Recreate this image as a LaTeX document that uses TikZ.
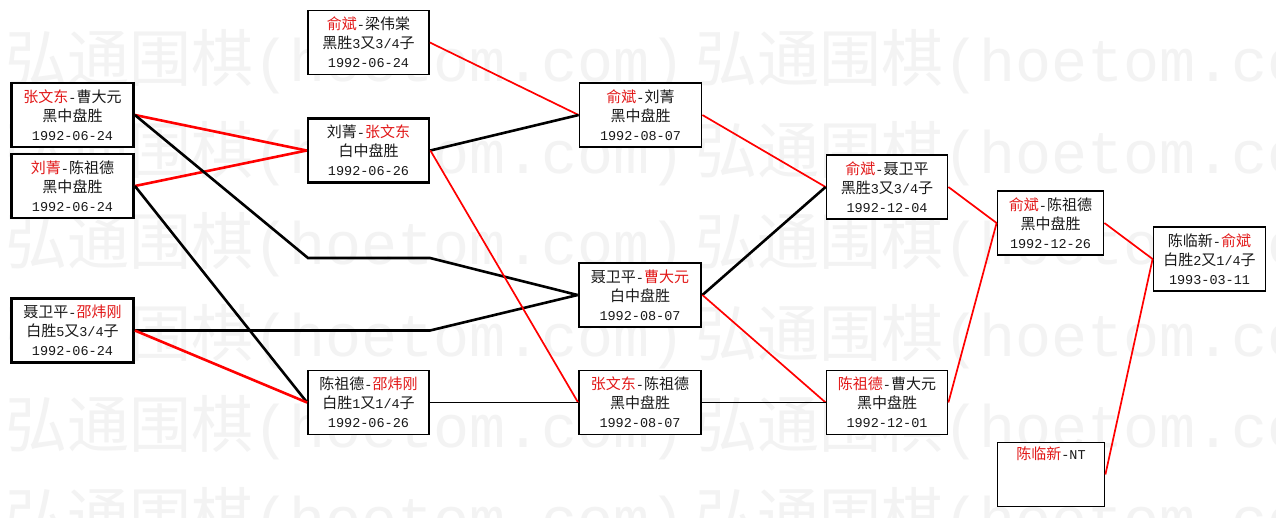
\documentclass[tikz,border=0pt]{standalone}
\usepackage{fontspec}
\setmainfont{Liberation Mono}
\newfontfamily\cjk{Noto Sans CJK SC}
\newfontfamily\mnf{Liberation Mono}
\definecolor{namered}{RGB}{226,24,24}
\definecolor{wmgray}{RGB}{243,243,243}
\definecolor{txt}{RGB}{25,25,25}
\newcommand\rd[1]{\textcolor{namered}{#1}}
\newcommand\asc[1]{{\mnf\fontsize{13.5}{19}\selectfont #1}}
\tikzset{
  box/.style={draw, fill=white, line width=1.8pt, minimum width=121pt, minimum height=64pt,
    inner sep=0pt, align=center, text=txt, font=\cjk\fontsize{15}{19}\selectfont},
  boldbox/.style={box, line width=2.8pt},
  thk/.style={line width=2.6pt},
  thn/.style={line width=1.7pt},
  wmk/.style={inner sep=0pt, anchor=west, text=wmgray},
}
\newcommand\wmtext{{\cjk\fontsize{62}{62}\selectfont 弘通围棋}{\mnf\fontsize{60}{62}\selectfont (hoetom.com)}}
\begin{document}
\begin{tikzpicture}[x=1pt,y=-1pt]
\clip (0,0) rectangle (1276,517);
\fill[white] (0,0) rectangle (1276,517);
% watermark
\foreach \yy [count=\i] in {62,153.5,245,336.5,428,519.5}{
  \node[wmk] (wma\i) at (5,\yy) {\wmtext};
  \node[wmk] (wmb\i) at (695,\yy) {\wmtext};
}
% boxes
\node[boldbox, minimum width=122pt] (A) at (72.5,115) {\rd{张文东}\asc{-}曹大元\\黑中盘胜\\\asc{1992-06-24}};
\node[boldbox, minimum width=122pt] (B) at (72.5,186) {\rd{刘菁}\asc{-}陈祖德\\黑中盘胜\\\asc{1992-06-24}};
\node[boldbox, minimum width=122pt] (C) at (72.5,330.5) {聂卫平\asc{-}\rd{邵炜刚}\\白胜\asc{5}又\asc{3/4}子\\\asc{1992-06-24}};
\node[box] (D) at (368.5,42.5) {\rd{俞斌}\asc{-}梁伟棠\\黑胜\asc{3}又\asc{3/4}子\\\asc{1992-06-24}};
\node[boldbox] (E) at (368.5,150.5) {刘菁\asc{-}\rd{张文东}\\白中盘胜\\\asc{1992-06-26}};
\node[box] (F) at (368.5,402.5) {陈祖德\asc{-}\rd{邵炜刚}\\白胜\asc{1}又\asc{1/4}子\\\asc{1992-06-26}};
\node[box, minimum width=122pt] (G) at (640.5,115) {\rd{俞斌}\asc{-}刘菁\\黑中盘胜\\\asc{1992-08-07}};
\node[boldbox, minimum width=122pt] (H) at (640,295) {聂卫平\asc{-}\rd{曹大元}\\白中盘胜\\\asc{1992-08-07}};
\node[box, minimum width=122pt] (I) at (640,402.5) {\rd{张文东}\asc{-}陈祖德\\黑中盘胜\\\asc{1992-08-07}};
\node[box] (J) at (887,187) {\rd{俞斌}\asc{-}聂卫平\\黑胜\asc{3}又\asc{3/4}子\\\asc{1992-12-04}};
\node[box] (K) at (887,402.5) {\rd{陈祖德}\asc{-}曹大元\\黑中盘胜\\\asc{1992-12-01}};
\node[box, minimum width=106pt] (L) at (1050.5,223) {\rd{俞斌}\asc{-}陈祖德\\黑中盘胜\\\asc{1992-12-26}};
\node[box, minimum width=112pt] (M) at (1209.5,259) {陈临新\asc{-}\rd{俞斌}\\白胜\asc{2}又\asc{1/4}子\\\asc{1993-03-11}};
\node[box, minimum width=107pt] (N) at (1051,474.5) {\rd{陈临新}\asc{-NT}\\\strut\\\strut};
% bend points
\coordinate (p1) at (308,258);
\coordinate (p2) at (430,258);
\coordinate (p3) at (430,330.5);
% connectors
\draw[thk, red] (A.east) -- (E.west);
\draw[thk, red] (B.east) -- (E.west);
\draw[thk, black] (A.east) -- (p1) -- (p2) -- (H.west);
\draw[thk, black] (C.east) -- (p3) -- (H.west);
\draw[thk, black] (B.east) -- (F.west);
\draw[thk, red] (C.east) -- (F.west);
\draw[thn, red] (D.east) -- (G.west);
\draw[thk, black] (E.east) -- (G.west);
\draw[thn, red] (E.east) -- (I.west);
\draw[thn, black] (F.east) -- (I.west);
\draw[thn, red] (G.east) -- (J.west);
\draw[thk, black] (H.east) -- (J.west);
\draw[thn, red] (H.east) -- (K.west);
\draw[thn, black] (I.east) -- (K.west);
\draw[thn, red] (J.east) -- (L.west);
\draw[thn, red] (K.east) -- (L.west);
\draw[thn, red] (L.east) -- (M.west);
\draw[thn, red] (N.east) -- (M.west);
\end{tikzpicture}
\end{document}
